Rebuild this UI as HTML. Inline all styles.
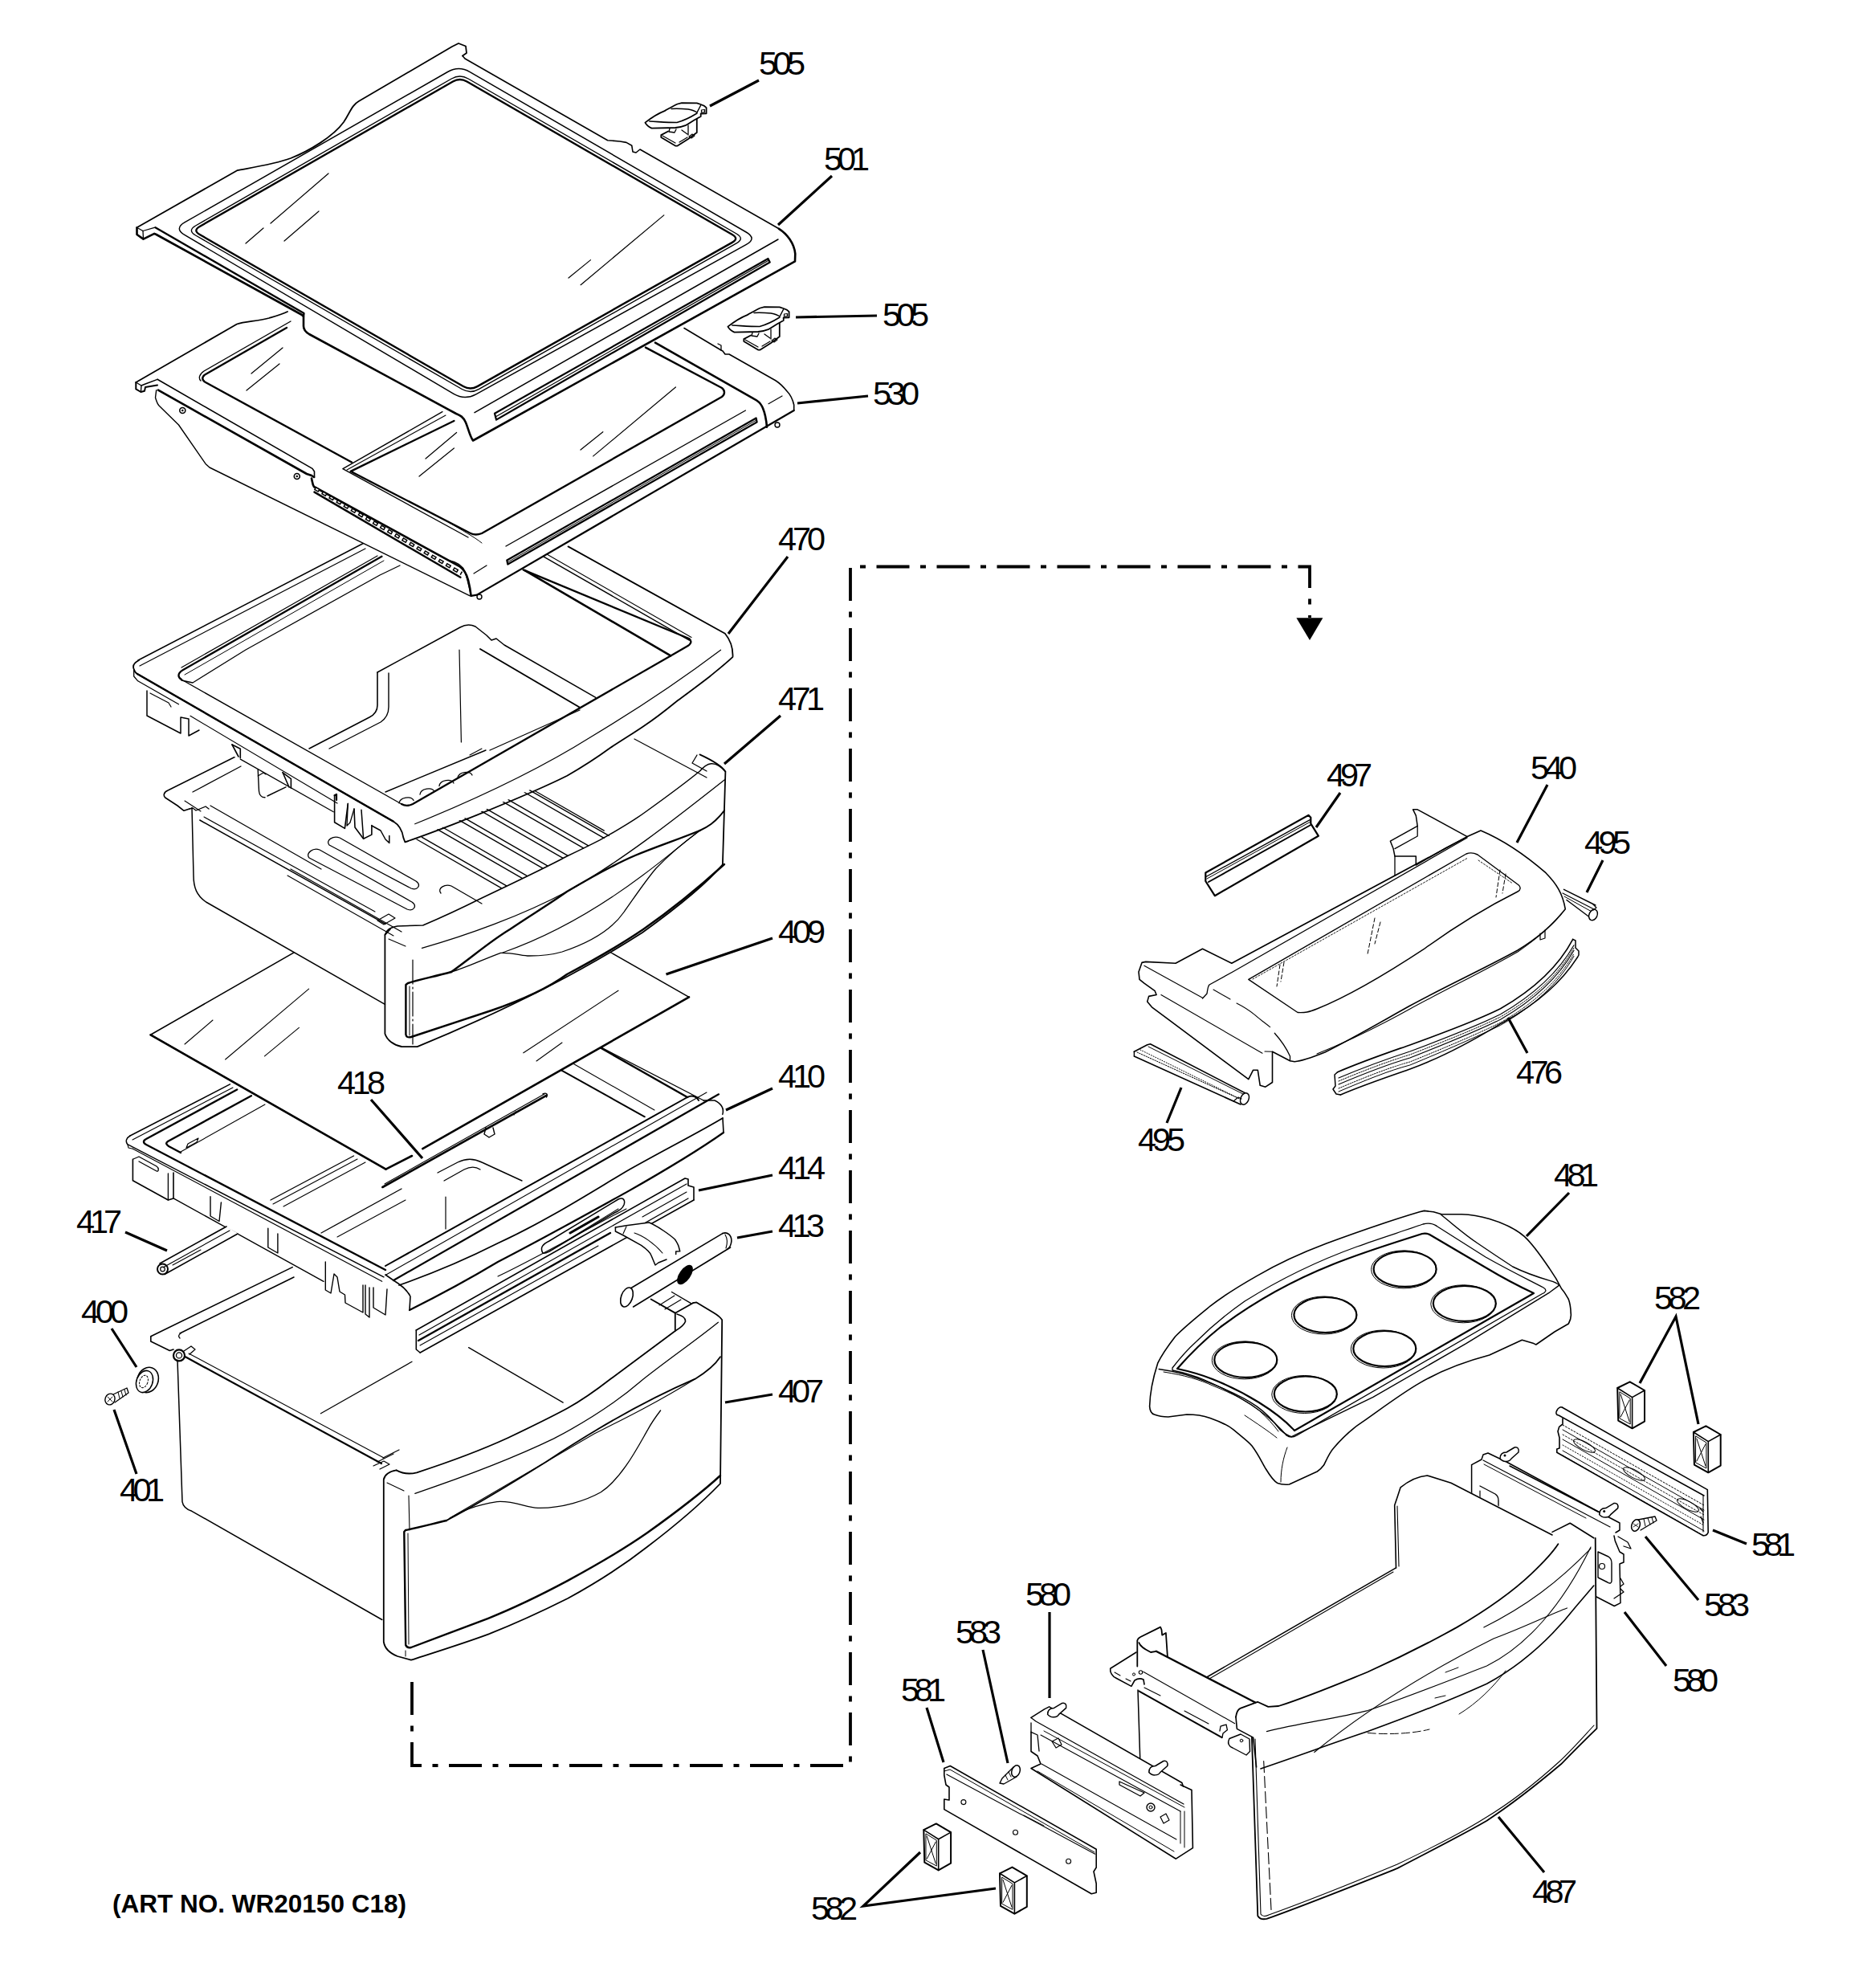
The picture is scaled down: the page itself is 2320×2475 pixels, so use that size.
<!DOCTYPE html>
<html><head><meta charset="utf-8"><style>
html,body{margin:0;padding:0;background:#fff;}
svg{display:block;}
.t text{font-family:"Liberation Sans",sans-serif;font-size:41.5px;fill:#000;}
</style></head><body>
<svg width="2320" height="2475" viewBox="0 0 2320 2475" xmlns="http://www.w3.org/2000/svg">
<rect width="2320" height="2475" fill="#fff"/>
<!--PARTS-->
<g id="parts" fill="none" stroke="#000" stroke-linejoin="round" stroke-linecap="round">
<!-- 10_p407.py -->
<path d="M187.8,1663.8L364.2,1577.6L700,1530L881.4,1622.7L899,1638.4L897,1847C860,1885 780,1940 707,1990C640,2022 560,2050 511.9,2066.7L477.8,2049.8L475.8,2016.5L238.8,1881.3C230,1878 227,1872 227,1869.6L221,1693.2L211.3,1681.5L187.8,1673.6Z" fill="#fff" stroke="none"/>
<path d="M187.8,1663.8L364.2,1577.6" stroke-width="1.6"/>
<path d="M225,1660C222,1662 222,1664 224,1666" stroke-width="1.3"/>
<path d="M224,1660L366,1590" stroke-width="1.6"/>
<path d="M187.8,1663.8L187.8,1670.0L211.3,1681.5L216.0,1680.0" stroke-width="1.6"/>
<circle cx="223" cy="1687.4" r="7" stroke-width="2.2"/><circle cx="223" cy="1687.4" r="3.5" stroke-width="1.3"/>
<path d="M229.0,1682.0L238.0,1676.0L243.0,1680.0L236.0,1686.0" stroke-width="1.3"/>
<path d="M221,1693.2L227,1869.6C228,1876 232,1879 238.8,1881.3L475.8,2016.5" stroke-width="1.5"/>
<path d="M231,1689.3L475,1822" stroke-width="2.2"/>
<path d="M235,1685L478,1815" stroke-width="1.1"/>
<path d="M465.0,1825.0L478.0,1819.0L485.0,1823.0L473.0,1829.0" stroke-width="1.2"/>
<path d="M470.0,1820.0L490.0,1810.0" stroke-width="1.2"/>
<path d="M477.0,1815.0L497.0,1805.0" stroke-width="1.2"/>
<path d="M493.5,1830.4C485,1832 479,1836 477.8,1842L477.8,2044C479,2052 485,2058 495,2062L511.9,2066.7C545,2056 580,2045 608,2034.6C640,2022 675,2006 707,1990C740,1972 775,1950 805.7,1926C840,1900 870,1875 897,1847L899.2,1643.3C897,1640 893,1637 889,1634.6L867.4,1621.4L863,1622.2" stroke-width="1.8"/>
<path d="M493.5,1830.4C500,1834 508,1836 519,1833.3C560,1820 600,1805 632.8,1790C660,1777 685,1765 707,1753C725,1743 742,1731 760,1717C790,1695 815,1676 840.8,1657L840.8,1634.7L863,1622.2" stroke-width="1.8"/>
<path d="M840.8,1657C846,1654 852,1650 853.6,1645C854,1641 850,1638 843,1636" stroke-width="1.6"/>
<path d="M840.8,1634.7L810.7,1617.5" stroke-width="2.0"/>
<path d="M860.5,1622.6L836.5,1608.5" stroke-width="1.4"/>
<path d="M821,1625L840,1613M828,1630L848,1618" stroke-width="1.1"/>
<path d="M516.8,1859.3C580,1838 640,1815 689.4,1791.2C730,1770 765,1748 797.8,1719.7C830,1694 865,1670 894.4,1646.3" stroke-width="1.3"/>
<path d="M482,1846L503,1856" stroke-width="1.1"/>
<path d="M509,1862L510,1905" stroke-width="1.1"/>
<path d="M556,1893C535,1898 515,1903 505,1905L503.3,1907L505.2,2048C506,2050 508,2051.9 512,2051L608,2014.8C640,2002 675,1985 707,1967.9C740,1950 775,1930 805.7,1908.6C840,1884 870,1862 897,1837" stroke-width="2.4"/>
<path d="M508,1909L509,2047" stroke-width="1.0"/>
<path d="M505,2055L505,2062" stroke-width="1.0"/>
<path d="M556,1893C600,1870 640,1845 680,1820C740,1780 800,1745 865.7,1716.7C880,1708 890,1700 897,1689.3" stroke-width="1.8"/>
<path d="M556,1893C575,1880 595,1873 618.9,1869.6C640,1868 655,1877 669.8,1877.4C700,1878 730,1868 748.2,1857.8C775,1840 795,1800 807,1779.4C812,1770 818,1762 822.6,1756" stroke-width="1.3"/>
<path d="M560,1890C620,1855 680,1820 740,1785C780,1765 820,1745 865.7,1716.7" stroke-width="1.1"/>
<path d="M399.4,1759.8L513,1695.2" stroke-width="1.3"/>
<path d="M583.6,1677.6L701.2,1746.1" stroke-width="1.3"/>
<!-- 12_p400.py -->

<ellipse cx="184" cy="1718" rx="13" ry="16" transform="rotate(20 184 1718)" fill="#fff" stroke-width="1.6"/>
<ellipse cx="180" cy="1720" rx="10" ry="14" transform="rotate(20 180 1720)" fill="#fff" stroke-width="1.5"/>
<ellipse cx="179" cy="1720" rx="5" ry="8" transform="rotate(20 179 1720)" stroke-width="1" stroke-dasharray="2 2"/>
<ellipse cx="137" cy="1742" rx="6" ry="7" transform="rotate(20 137 1742)" fill="#fff" stroke-width="1.4"/>
<path d="M134,1739L140,1745M140,1739L134,1745" stroke-width="0.9"/>
<path d="M141,1736L158,1728L160,1734L143,1746" stroke-width="1.3"/>
<path d="M147,1733L149,1741M151,1732L153,1739M155,1730L157,1737" stroke-width="1.0"/>
<!-- 20_p410.py -->
<path d="M158.8,1423.6C156,1420 157,1417 162,1414L420,1268L860,1360L876,1374C895,1380 901,1386 900.7,1398.5L900,1415C850,1450 780,1490 700,1530C620,1570 560,1590 515,1610L500,1645L480,1637L453,1610L430,1612L405,1600L403,1595L216,1492L209.4,1494L165.4,1469.8L165.4,1443.4Z" fill="#fff" stroke="none"/>
<path d="M162,1414L286.4,1349.9" stroke-width="1.5"/>
<path d="M165,1419L290,1354" stroke-width="1.1"/>
<path d="M162,1414C157,1417 156,1421 158.8,1424.7L477.9,1589.8" stroke-width="1.5"/>
<path d="M165.4,1430.2L475.7,1595.3" stroke-width="1.2"/>
<path d="M159,1425L160,1429L165.4,1430.2" stroke-width="1.1"/>
<path d="M295.2,1356.5L182,1418C178,1420 178,1423 182,1425L480,1581" stroke-width="2.4"/>
<path d="M312.9,1364.2L209,1421C206,1423 207,1425 210,1427L225,1435" stroke-width="2.4"/>
<path d="M225,1434L330,1375" stroke-width="1.1"/>
<path d="M232,1429L245,1422L247,1417L234,1424Z" stroke-width="1.2"/>
<path d="M337,1494L440.5,1439" stroke-width="1.4"/>
<path d="M340,1499L445,1443" stroke-width="1.1"/>
<path d="M353,1502L455,1447" stroke-width="1.1"/>
<path d="M400,1535L500,1480" stroke-width="1.3"/>
<path d="M420,1540L505,1494" stroke-width="1.1"/>
<path d="M165.4,1443.4L165.4,1469.8L209.4,1494.0L216.0,1491.9L216.0,1460.0" stroke-width="1.6"/>
<path d="M166,1443L173,1440L195,1452C198,1454 198,1459 195,1458L173,1446" stroke-width="1.3"/>
<path d="M209.4,1461.0L209.4,1494.0" stroke-width="1.3"/>
<path d="M216.0,1491.9L403.0,1595.3" stroke-width="1.4"/>
<path d="M262.0,1489.6L262.0,1514.0L273.0,1520.5L275.4,1497.0" stroke-width="1.4"/>
<path d="M333.8,1529.3L333.8,1553.0L345.9,1560.0L345.9,1536.0" stroke-width="1.4"/>
<path d="M405.3,1571.0L405.3,1606.0L412.0,1610.0L416.0,1586.0L420.0,1590.0L423.0,1608.0L429.5,1612.0L430.0,1622.0L452.0,1634.0L452.0,1600.0" stroke-width="1.4"/>
<path d="M455.0,1600.0L455.0,1636.0L460.0,1640.0L460.0,1603.0" stroke-width="1.4"/>
<path d="M465.0,1603.0L465.0,1628.0L480.0,1637.0L482.0,1605.0" stroke-width="1.4"/>
<path d="M480,1576L856,1366C862,1363 868,1365 870,1370" stroke-width="2.0"/>
<path d="M480,1587.5L880,1360" stroke-width="1.1"/>
<path d="M490,1594L895,1362.3" stroke-width="2.2"/>
<path d="M497,1600C540,1585 580,1568 620,1547.8C680,1520 730,1488 780,1458.2C830,1430 870,1410 900,1392" stroke-width="1.8"/>
<path d="M510,1631C550,1611 585,1592 620,1571C680,1540 730,1512 780,1484.4C830,1456 870,1432 901,1410" stroke-width="2.2"/>
<path d="M620,1589C680,1560 730,1530 780,1505" stroke-width="1.1"/>
<path d="M480,1587L490,1594C500,1600 507,1606 511,1614L510,1631" stroke-width="1.6"/>
<path d="M899.8,1387.4C902,1380 898,1374 890,1370L876,1370" stroke-width="1.5"/>
<path d="M900,1392L901,1410" stroke-width="1.6"/>
<path d="M676,1560C672,1553 676,1549 684,1545L770,1493C776,1490 779,1494 777,1500C775,1505 770,1508 765,1510L684,1558C680,1560 678,1561 676,1560Z" stroke-width="1.5"/>
<path d="M710,1535L745,1515" stroke-width="3.0"/>
<path d="M700,1548L770,1505" stroke-width="1.1"/>
<path d="M856,1366L740,1300" stroke-width="2.4"/>
<path d="M876.2,1370L749.8,1304.6" stroke-width="1.3"/>
<path d="M802.8,1390.3L696.7,1331.2" stroke-width="2.0"/>
<path d="M815,1382L710,1322" stroke-width="1.1"/>
<path d="M545,1460L570,1447C580,1442 590,1442 600,1447L650,1470" stroke-width="1.4"/>
<path d="M553,1470L578,1456C586,1452 592,1452 598,1456" stroke-width="1.3"/>
<path d="M555,1490L555,1530" stroke-width="1.2"/>
<!-- 22_p417.py -->
<path d="M197.3,1573.3L282,1527L297,1536L205,1586.5C198,1586 196,1578 197.3,1573.3Z" fill="#fff" stroke="none"/>
<path d="M199,1573L282,1527" stroke-width="1.6"/>
<path d="M205,1586.5L296,1536" stroke-width="1.6"/>
<path d="M203,1578L286,1532" stroke-width="1.1"/>
<path d="M215,1575L250,1556" stroke-width="1.1"/>
<circle cx="202.5" cy="1580" r="6.5" stroke-width="2"/><circle cx="202.5" cy="1580" r="2.8" stroke-width="1.2"/>
<!-- 24_p414.py -->
<path d="M518.3,1656L853,1467L859,1470L864,1494L523.2,1684L518.3,1680Z" fill="#fff" stroke="none"/>
<path d="M518.3,1656L853,1467L857,1468L857,1476L864,1478L864,1494" stroke-width="1.6"/>
<path d="M523.2,1684L864,1494" stroke-width="1.6"/>
<path d="M518.3,1656L518.3,1680L523.2,1684" stroke-width="1.6"/>
<path d="M522,1662L855,1474" stroke-width="1.2"/>
<path d="M521,1669L760,1535" stroke-width="2.4"/>
<path d="M523,1675L745,1551" stroke-width="1.1"/>
<path d="M790,1530L857,1492" stroke-width="1.3"/>
<path d="M800,1515L855,1484" stroke-width="1.1"/>
<!-- 26_p413.py -->
<path d="M773.8,1617C770,1610 775,1600 786,1603.5L899.8,1535.6C905,1532 912,1536 910.9,1545C910,1552 908,1555 909.6,1555.3L788.6,1627C780,1630 775,1625 773.8,1617Z" fill="#fff" stroke="none"/><path d="M766.4,1528L808.4,1522C820,1527 835,1538 845.4,1552.8L846.7,1557.8L841.7,1561.5L830,1568L816,1575L811,1563L798.5,1550.4L766.4,1533Z" fill="#fff" stroke="none"/>
<path d="M786,1603.5L899.8,1535.6" stroke-width="1.6"/>
<path d="M788.6,1627L909.6,1553" stroke-width="1.6"/>
<ellipse cx="780.5" cy="1615" rx="7" ry="12.5" transform="rotate(20 780.5 1615)" fill="#fff" stroke-width="1.6"/>
<path d="M899.8,1535.6C906,1533 911,1538 910.9,1545C910.5,1550 909,1553 906,1555" stroke-width="1.6"/>
<path d="M903,1537C906,1542 906,1548 904,1554" stroke-width="1.1"/>
<ellipse cx="853" cy="1587" rx="14" ry="7" transform="rotate(-55 853 1587)" fill="#000" stroke="none"/>
<path d="M766.4,1528L780,1525.7L808.4,1522C820,1527 835,1538 840.5,1543C843,1547 845,1550 845.4,1552.8L846.7,1557.8L841.7,1558L841.7,1561.5" stroke-width="1.5"/>
<path d="M766.4,1528L766.4,1533L776.3,1538L798.5,1550.4C805,1555 810,1560 811,1563L816,1575L820,1572L830,1568" stroke-width="1.5"/>
<path d="M776,1536L780,1527M790,1535C800,1538 815,1548 825,1560" stroke-width="1.1"/>
<!-- 28_p418.py -->

<path d="M476.4,1478L680.4,1363.8" stroke-width="2.6"/>
<path d="M479,1474L678,1362" stroke-width="1.1"/>
<path d="M676,1362C680,1360 683,1362 680.4,1366" stroke-width="1.4"/>
<path d="M605,1404L603,1412L609,1416L616,1412L614,1404" stroke-width="1.4"/>
<path d="M640,1388L642,1384" stroke-width="1.2"/>
<!-- 30_p409.py -->
<path d="M187.5,1288.3L563.0,1073.0L858.0,1241.4L480.5,1455.6Z" fill="#fff" stroke="none"/>
<path d="M480.5,1455.6L187.5,1288.3L563.0,1073.0" stroke-width="1.6"/>
<path d="M563.0,1073.0L858.0,1241.4" stroke-width="1.5"/>
<path d="M187.5,1288.3L480.5,1455.6" stroke-width="2.6"/>
<path d="M480.5,1455.6L513.0,1439.0" stroke-width="2.6"/>
<path d="M526.3,1430.2L858.0,1241.4" stroke-width="2.6"/>
<path d="M280.6,1319.0L384.6,1231.2" stroke-width="1.1"/>
<path d="M329.5,1314.8L372.4,1279.3" stroke-width="1.1"/>
<path d="M651.8,1310.8L770.0,1233.2" stroke-width="1.1"/>
<path d="M668.0,1321.0L700.0,1298.0" stroke-width="1.1"/>
<path d="M230.0,1300.0L265.0,1270.0" stroke-width="1.1"/>
<!-- 40_p471.py -->
<path d="M299.7,938.8L209.6,983.8C204,986 203,990 205.7,993L221,1003L239,1005.4L241,1090C241,1105 245,1115 256.6,1123L479.4,1250L479.4,1287C482,1295 490,1301 500,1303L519.6,1303.2C600,1270 700,1225 800,1161C850,1125 880,1100 899.9,1076.4L903.4,960.7C900,955 890,948 871.5,939.4L700,850Z" fill="#fff" stroke="none"/>
<path d="M299.7,938.8L209.6,983.8C204,986 203,990 205.7,993L221,1003L229,1009.3L236,1007" stroke-width="1.6"/>
<path d="M236,1007L240,1006L244,1009L256,1004L260,1007" stroke-width="1.3"/>
<path d="M240,986L300,954" stroke-width="1.3"/>
<path d="M239,1005.4L241,1090C241,1105 245,1115 256.6,1123L479.4,1250.3" stroke-width="1.5"/>
<path d="M248.8,1021L480,1150.4" stroke-width="1.5"/>
<path d="M254,1017L467,1135" stroke-width="1.1"/>
<path d="M230,997L250,1010" stroke-width="1.1"/>
<path d="M486,1156.7L479.4,1163.8L479.4,1287C482,1295 490,1301 500,1303L519.6,1303.2C600,1270 700,1225 800,1161C850,1125 880,1100 899.9,1076.4L903.4,960.7C900,955 890,948 871.5,939.4" stroke-width="1.8"/>
<path d="M479.4,1163.8C481,1158 485,1155 495,1153L526.7,1152C555,1140 580,1128 600,1118C640,1099 680,1080 706,1066C725,1057 735,1052 746.9,1045.9C770,1033 790,1021 805,1010C830,992 852,976 871.5,960C880,950 890,945 903.4,960.7" stroke-width="1.5"/>
<path d="M525.5,1180.3C580,1165 650,1140 706,1110C770,1075 840,1020 903.4,970" stroke-width="1.3"/>
<path d="M484,1169L505,1178" stroke-width="1.1"/>
<path d="M514,1195L514,1300" stroke-width="1.2" stroke-dasharray="30 4 2 4"/>
<path d="M562,1210C540,1216 520,1220 508,1224L505.4,1226L505.4,1288C506,1291 508,1292 512,1291L612,1258C650,1245 680,1232 706,1213C740,1195 770,1178 801,1157C840,1130 870,1105 902,1076" stroke-width="2.4"/>
<path d="M510,1228L510,1289" stroke-width="1.0"/>
<path d="M562,1210C590,1190 610,1172 635,1157C660,1140 685,1125 706,1110C740,1090 765,1076 791,1065C820,1053 845,1045 871.5,1034" stroke-width="2.4"/>
<path d="M562,1210C580,1205 600,1195 623.5,1186.3C640,1186 650,1190 659,1190C675,1190 690,1188 700,1185C730,1175 760,1160 777,1135.5C795,1110 805,1095 817,1081C835,1062 850,1050 871.5,1034" stroke-width="1.3"/>
<path d="M626,1186C700,1160 760,1120 800,1090C830,1068 850,1050 871.5,1034" stroke-width="1.1"/>
<path d="M871.5,1034C880,1030 890,1025 902,1009" stroke-width="2.0"/>
<path d="M519.0,1045.0L624.7,1105.8" stroke-width="1.4"/>
<path d="M525.5,1042.3L630.8,1102.8" stroke-width="1.4"/>
<path d="M544.8,1032.7L650.2,1093.3" stroke-width="1.4"/>
<path d="M551.3,1030.0L656.2,1090.3" stroke-width="1.4"/>
<path d="M570.6,1020.4L675.7,1080.8" stroke-width="1.4"/>
<path d="M577.1,1017.7L681.7,1077.8" stroke-width="1.4"/>
<path d="M596.4,1008.1L701.1,1068.3" stroke-width="1.4"/>
<path d="M602.9,1005.4L707.2,1065.3" stroke-width="1.4"/>
<path d="M622.2,995.8L726.6,1055.8" stroke-width="1.4"/>
<path d="M628.7,993.1L732.7,1052.9" stroke-width="1.4"/>
<path d="M648.0,983.5L752.1,1043.4" stroke-width="1.4"/>
<path d="M654.5,980.8L758.2,1040.4" stroke-width="1.4"/>
<path d="M666.4,984.7L752.3,1034.1" stroke-width="1.3"/>
<path d="M385,1068C380,1062 390,1055 398,1058L513,1123C520,1128 515,1135 507,1132Z" stroke-width="1.3"/>
<path d="M410,1052C405,1046 415,1040 423,1043L518,1097C525,1102 520,1109 512,1106Z" stroke-width="1.3"/>
<path d="M549,1112C544,1106 554,1100 562,1103L600,1125" stroke-width="1.3"/>
<path d="M362,1082L500,1160" stroke-width="1.3"/>
<path d="M358,1090L490,1165" stroke-width="1.1"/>
<path d="M470,1146L484,1138L492,1143L478,1151Z" stroke-width="1.2"/>
<path d="M790,920L880,968" stroke-width="1.2"/>
<path d="M868,940L862,950L880,960" stroke-width="1.3"/>
<path d="M321.2,958L322.5,985C323,990 326,993 330,992.8" stroke-width="1.4"/>
<path d="M333,991L356,979.9" stroke-width="1.4"/>
<path d="M321.2,966L328,962L331,964" stroke-width="1.2"/>
<path d="M262,1003L400,1082" stroke-width="1.2"/>
<!-- 50_p470.py -->
<path d="M172,822L461,672L600,600L707.5,680.4L902.9,788.8C908,795 913,805 912.5,817.8C912,822 900,830 883.5,842.5C850,875 800,905 760,931C700,968 620,1003 504.4,1048.3L500,1038L418,1000L235,916L223,889L183,891L183,860L171.7,847.8L166.7,842C165,832 166,825 172,822Z" fill="#fff" stroke="none"/><path d="M416.6,990.2L416.6,1023.7L429.4,1031.4L433.3,1000.5L441,1007L450,1008.2L452.6,1044.3L462.9,1039.1L462.9,1027.5L484.8,1040.4L484.8,1049.4L500,1050L500,1030Z" fill="#fff" stroke="none"/>
<path d="M172,822L461,672" stroke-width="1.5"/>
<path d="M174,829L455,683" stroke-width="1.2"/>
<path d="M173,822C167,825 165,829 166.7,833C167.5,836 169,838 171,839L490,1022.8C497,1027 501,1034 502.4,1043.2L504.4,1048.3C530,1040 560,1028 584,1018.7C630,1000 670,984 706.3,965.7C725,955 745,942 760,931C775,921 790,912 802,903.7C815,895 828,885 840.6,874.7C855,864 870,853 883.5,842.5C895,833 905,825 912.5,817.8C913,805 908,795 902.9,788.8L707.5,680.4" stroke-width="1.8"/>
<path d="M171,839L490,1022.8" stroke-width="2.4"/>
<path d="M166.7,834L166.7,842L171.7,847.8L222.5,876.8" stroke-width="1.3"/>
<path d="M237,891.3L420,1000" stroke-width="1.2"/>
<path d="M516.7,1025.8C580,1000 660,965 735.4,917.7C790,885 850,845 897.5,809.2" stroke-width="1.2"/>
<path d="M475.4,692.8L228,834C221,838 221,843 226,846" stroke-width="2.3"/>
<path d="M226,846L500,1001" stroke-width="1.4"/>
<path d="M500,1001C505,1004 510,1003 514,1001L836,816L855,805C861,802 862,798 858,795L651.6,709.4" stroke-width="2.3"/>
<path d="M470,692L226,831" stroke-width="1.2"/>
<path d="M230,840L478,698" stroke-width="1.0"/>
<path d="M676.7,692.8L858.4,797.1" stroke-width="1.4"/>
<path d="M681,690L861,793.5" stroke-width="1.1"/>
<path d="M653.5,710.1L835.2,816.4" stroke-width="2.6"/>
<path d="M183.0,860.0L183.0,891.0L225.0,913.0L225.0,893.0L235.0,895.0L235.0,916.0L248.0,909.0" stroke-width="1.5"/>
<path d="M187.0,863.0L210.0,875.0L213.0,880.0" stroke-width="1.2"/>
<path d="M470,837L470,878C470,885 466,890 460,893L385,932" stroke-width="1.6"/>
<path d="M470,837L573,781C580,777 586,777 592,780L606,791L612,797L618,795L628,803L741.8,868.3" stroke-width="1.5"/>
<path d="M484,838L484,880C484,888 480,895 474,899L410,932" stroke-width="1.4"/>
<path d="M598,808L722.5,881" stroke-width="2.0"/>
<path d="M572,809L574.4,924" stroke-width="1.2"/>
<path d="M226,847L240,850L306,809L473,716L498,704" stroke-width="1.3"/>
<path d="M480,986L605,934" stroke-width="1.4"/>
<path d="M497,999.9C498,992.4 512,990.4 515,996.4" stroke-width="1.3"/>
<path d="M523,989.0C524,981.5 538,979.5 541,985.5" stroke-width="1.3"/>
<path d="M547,978.5C548,971 562,969 565,975" stroke-width="1.3"/>
<path d="M570,968.5C571,961 585,959 588,965" stroke-width="1.3"/>
<path d="M610,934L722,884" stroke-width="1.3"/>
<path d="M585,940L600,932" stroke-width="1.1"/>
<path d="M289.0,927.0L299.3,932.2L299.3,943.8" stroke-width="1.6"/>
<path d="M289.0,927.0L297.0,942.0" stroke-width="1.6"/>
<path d="M352.1,961.8L362.4,969.6L362.4,981.2" stroke-width="1.6"/>
<path d="M352.1,961.8L360.0,980.0" stroke-width="1.6"/>
<path d="M416.6,990.2L416.6,1023.7L429.4,1031.4L433.3,1000.5" stroke-width="1.6"/>
<path d="M433.3,1000.5L432.0,1028.0L436.0,1024.0L441.0,1007.0" stroke-width="1.3"/>
<path d="M441.0,1007.0L442.0,1030.0L452.6,1044.3L462.9,1039.1L462.9,1027.5" stroke-width="1.6"/>
<path d="M450.0,1008.2L452.6,1044.3" stroke-width="1.5"/>
<path d="M463.0,1028.0L474.0,1034.0L480.0,1045.0L484.8,1049.4L484.8,1040.4" stroke-width="1.5"/>
<path d="M416.6,990.2L419.0,989.0L419.0,996.0" stroke-width="2.2"/>
<path d="M299.3,945.1L415.3,1010.8" stroke-width="1.3"/>
<!-- 60_p530.py -->
<path d="M169.3,476L295,403.5L358,388L565,250L852,408.5L898,436L965.8,473.7C976,482 987,497 988.7,511L593.8,740.6L584.8,741.6L261,582L256,577.4L222.5,529L198,505L193.5,495L194.7,485.6L180,486.8L175.4,488L169.3,484.4Z" fill="#fff" stroke="none"/>
<path d="M169.3,476L295,403.5C305,400 320,400 335,396C345,393 352,391 358,388" stroke-width="1.8"/>
<path d="M169.3,476.0L169.3,484.4L175.4,488.0L180.0,486.8L181.0,482.0L196.0,479.6" stroke-width="2.0"/>
<path d="M169.3,476.0L176.0,480.0L181.0,478.0L196.0,472.3" stroke-width="1.4"/>
<path d="M176.0,480.0L175.4,488.0" stroke-width="1.4"/>
<path d="M196.0,472.3L389.0,583.4L391.5,587.0L391.5,594.3" stroke-width="1.6"/>
<path d="M197.0,485.6L382.0,590.0L388.0,592.0L391.0,594.0" stroke-width="2.6"/>
<path d="M194.7,485.6L193.5,495C195,500 196,503 198,505L222.5,529L256,577.4L261,582L584.8,741.6" stroke-width="1.4"/>
<circle cx="227.3" cy="511" r="3.5" stroke-width="1.6"/><circle cx="227.3" cy="511" r="1.3" fill="#000" stroke="none"/>
<circle cx="369.8" cy="593" r="3.5" stroke-width="1.6"/><circle cx="369.8" cy="593" r="1.3" fill="#000" stroke="none"/>
<path d="M388,595.5C389,600 389,603 391,606L572.7,705.4C578,709 581,715 583,722C585,730 586,736 586.6,741.8" stroke-width="2.6"/>
<path d="M391.5,612.6L573.4,718.8" stroke-width="2.4"/>
<path d="M392.0,607.8L575.0,714.0" stroke-width="4.5" stroke-dasharray="6.5 4" stroke-linecap="butt"/>
<path d="M392.0,607.8L575.0,714.0" stroke-width="1.6" stroke="#fff" stroke-dasharray="3.5 7" stroke-dashoffset="-1.5" stroke-linecap="butt"/>
<path d="M586.6,741.8L593.8,740.6L988.7,511.0" stroke-width="2.2"/>
<path d="M988.7,511L988.7,504C987,497 984,491 980,487C976,482 971,477 965.8,473.7L908,441L903,441L900,437L898,436L852,408.5" stroke-width="1.6"/>
<path d="M898.0,436.0L898.0,430.0L894.0,428.0" stroke-width="1.3"/>
<path d="M816,426.6L939,496.6C944,499 947,502 949,506C952,512 954,520 955,531.6" stroke-width="2.6"/>
<path d="M631.3,697.5L941.6,520.5L942.6,525.5L632.3,702.5L631.3,697.5" stroke-width="2.2"/>
<path d="M632.0,700.0L942.0,523.0" stroke-width="1.0"/>
<path d="M630.0,680.0L928.4,511.0" stroke-width="1.4"/>
<path d="M565.4,524L436.6,586.8L586,664C590,666 595,666 600,664L899,494C903,491 903,486 899,483L804,432.6" stroke-width="2.4"/>
<path d="M550.9,512.7L426.9,583.6L583,669" stroke-width="1.4"/>
<path d="M555,517L432,585" stroke-width="1.1"/>
<path d="M560,698C570,700 576,704 579,712C582,720 584,730 586.6,741.8" stroke-width="1.4"/>
<path d="M560,651C575,660 590,668 600,676" stroke-width="1.0"/>
<path d="M357,408L256,466C251,469 251,473 256,476L438,575.5" stroke-width="2.4"/>
<path d="M362,400L254,462C248,466 247,471 250,474" stroke-width="1.4"/>
<path d="M841.4,482.0L738.7,567.9" stroke-width="1.2"/>
<path d="M750.8,537.7L723.0,560.0" stroke-width="1.2"/>
<path d="M957.0,502.7L974.0,493.0" stroke-width="1.2"/>
<path d="M590.0,714.0L606.0,704.0" stroke-width="1.2"/>
<path d="M352.0,433.0L313.0,465.0" stroke-width="1.2"/>
<path d="M348.0,453.0L307.0,486.0" stroke-width="1.2"/>
<path d="M568.6,538.5L530.0,571.0" stroke-width="1.2"/>
<path d="M565.4,558.0L522.0,593.0" stroke-width="1.2"/>
<circle cx="968" cy="529" r="3" stroke-width="1.4"/><circle cx="597" cy="743" r="3" stroke-width="1.4"/>
<!-- 70_p501.py -->
<path d="M170.5,283.3L295.3,212.2C305,210 340,205 362,197C385,188 415,170 428,152C436,140 438,131 446.8,126L563,58L571,54L580,57.5L581,66L576,69.5L579,73L756.7,174.7L788,189L970,284.8C980,291 989,303 990.3,316L990,325.4L589,548.5C585,543 583,533 580,526C577,519 573,517 568,515L385,416C380,413 378,410 378,406L378,394L376,392L194.7,292L192.2,290.8L178.5,297.6L170.5,292Z" fill="#fff" stroke="none"/>
<path d="M170.5,283.3L295.3,212.2C305,210 340,205 362,197C385,188 415,170 428,152C436,140 438,131 446.8,126L563,58L571,54L580,57.5L581,66L576,69.5" stroke-width="1.8"/>
<path d="M576.0,69.5L579.0,73.0L756.7,174.7L772.0,176.0L780.0,177.4L786.8,181.3L788.0,189.0L792.0,190.0L797.0,186.0L970.0,284.8" stroke-width="1.6"/>
<path d="M970,284.8C980,291 989,303 990.3,316L990,325.4L589,548.5C585,543 583,533 580,526C577,519 573,517 568,515L385,416C380,413 378,410 378,406L378,394L376,392L194.7,292L192.2,290.8L178.5,297.6L170.5,292L170.5,283.3" stroke-width="2.6"/>
<path d="M193.5,283.3L378.5,390.0L378.0,394.0" stroke-width="2.3"/>
<path d="M170.5,283.3L178.0,287.5L192.2,283.3L193.5,283.3" stroke-width="1.3"/>
<path d="M178.0,287.5L178.5,297.6" stroke-width="1.3"/>
<path d="M591.0,513.6L969.0,298.0" stroke-width="1.5"/>
<path d="M616.0,514.7L956.5,322.0L958.7,326.5L618.0,522.6L616.0,514.7" stroke-width="2.2"/>
<path d="M617.5,518.8L957.0,324.3" stroke-width="1.2"/>
<path d="M230.3,276.7L557.5,89.5Q571.4,81.6 585.2,89.6L929.2,289.0Q943.0,297.0 929.0,304.7L592.8,490.8Q578.8,498.5 565.0,490.4L230.2,292.7Q216.4,284.6 230.3,276.7Z" stroke-width="1.5"/>
<path d="M243.6,281.0L562.3,98.0Q572.7,92.0 583.1,98.0L917.1,291.0Q927.5,297.0 917.1,302.9L596.1,484.6Q585.7,490.5 575.3,484.5L243.6,293.0Q233.2,287.0 243.6,281.0Z" stroke-width="1.4"/>
<path d="M248.7,282.0L564.0,101.5Q572.7,96.5 581.4,101.5L911.8,292.0Q920.5,297.0 911.8,301.9L594.4,481.1Q585.7,486.0 577.0,481.0L248.7,292.0Q240.0,287.0 248.7,282.0Z" stroke-width="2.4"/>
<path d="M409.0,216.0L337.0,278.0" stroke-width="1.2"/>
<path d="M328.0,284.0L306.0,303.0" stroke-width="1.2"/>
<path d="M397.0,263.0L354.0,300.0" stroke-width="1.2"/>
<path d="M826.8,267.9L723.1,354.7" stroke-width="1.2"/>
<path d="M735.5,323.6L708.0,346.0" stroke-width="1.2"/>
<!-- 80_p505.py -->

<g><path d="M803.4,152.6C812,146 820,141 827.6,138.1C835,134 840,131 843.7,129.5L849,128.2L867.8,128.4L872.7,130C876,131 878,132 879.6,134L879.6,141.3L872.7,141.5L872.7,145L866.8,148.3C862,151 858,154 854.4,155.8C850,157.5 845,158.8 841,159L811.5,159.6C808,158 805,155.5 803.4,152.6Z" fill="#fff" stroke-width="1.8"/>
<path d="M808.8,151C820,151.5 830,152.5 843,152.5C852,150 860,146 868,141" stroke-width="1.6"/>
<path d="M836,135.4C845,135 852,135.5 857,136C862,137 866,138.5 868,140L872.7,131" stroke-width="1.5"/>
<path d="M873.5,137L877.5,136.5L877.5,139.7L873.5,140Z" stroke-width="1.2"/>
<path d="M834,160L833,164L840,165L842,161M857,156L857,168" stroke-width="1.3"/>
<path d="M867.8,148L867.8,165L857.1,173L843.7,181.6L841,181.6L823.3,171L823.3,168.1L832,163.5" stroke-width="1.8"/>
<path d="M825,169L841,178M846,177L856,171M849,162L856,167" stroke-width="1.3"/>
<path d="M858,170L862,167L865,169L861,172Z" stroke-width="1.1"/></g>
<g transform="translate(103,254)"><path d="M803.4,152.6C812,146 820,141 827.6,138.1C835,134 840,131 843.7,129.5L849,128.2L867.8,128.4L872.7,130C876,131 878,132 879.6,134L879.6,141.3L872.7,141.5L872.7,145L866.8,148.3C862,151 858,154 854.4,155.8C850,157.5 845,158.8 841,159L811.5,159.6C808,158 805,155.5 803.4,152.6Z" fill="#fff" stroke-width="1.8"/>
<path d="M808.8,151C820,151.5 830,152.5 843,152.5C852,150 860,146 868,141" stroke-width="1.6"/>
<path d="M836,135.4C845,135 852,135.5 857,136C862,137 866,138.5 868,140L872.7,131" stroke-width="1.5"/>
<path d="M873.5,137L877.5,136.5L877.5,139.7L873.5,140Z" stroke-width="1.2"/>
<path d="M834,160L833,164L840,165L842,161M857,156L857,168" stroke-width="1.3"/>
<path d="M867.8,148L867.8,165L857.1,173L843.7,181.6L841,181.6L823.3,171L823.3,168.1L832,163.5" stroke-width="1.8"/>
<path d="M825,169L841,178M846,177L856,171M849,162L856,167" stroke-width="1.3"/>
<path d="M858,170L862,167L865,169L861,172Z" stroke-width="1.1"/></g>
<!-- r10_p580R.py -->
<path d="M1832.6,1823.7L1845,1812L1852,1810L2017,1900L2022,1925L2020,1935L2018,1995.6L2010.3,1999.5L1988,1988L1832.6,1900Z" fill="#fff" stroke="none"/>
<path d="M1832.6,1823.7L1845,1817L1847,1811L1853,1809L1876,1820L1996,1885L2017,1896L2017,1905L2012,1908" stroke-width="1.5"/>
<path d="M1832.6,1823.7L1832.6,1880" stroke-width="1.5"/>
<path d="M1847,1818L2005,1901" stroke-width="1.2"/>
<path d="M1848,1823L1975,1890" stroke-width="1.0"/>
<path d="M1880,1825L1990,1882" stroke-width="1.5"/>
<path d="M1868,1816C1868,1810 1872,1808 1876,1808L1886,1802C1890,1801 1892,1804 1891,1808L1882,1816C1880,1820 1872,1821 1868,1816Z" fill="#fff" stroke-width="1.5"/>
<circle cx="1874" cy="1812" r="1.5" fill="#000" stroke="none"/>
<path d="M1991.7,1885.6C1991.7,1879.6 1995.7,1877.6 1999.7,1877.6L2009.7,1871.6C2013.7,1870.6 2015.7,1873.6 2014.7,1877.6L2005.7,1885.6C2003.7,1889.6 1995.7,1890.6 1991.7,1885.6Z" fill="#fff" stroke-width="1.5"/>
<circle cx="1997.7" cy="1881.6" r="1.5" fill="#000" stroke="none"/>
<path d="M2010,1912L2011.3,1918.4L2017,1932L2022,1935L2022,1945L2017,1947L2018,1995.6L2010.3,1999.5L1988,1988" stroke-width="1.5"/>
<path d="M2015,1913L2027,1920L2031,1928L2022,1925" stroke-width="1.3"/>
<path d="M2018,1965L2022,1972L2018,1975" stroke-width="1.3"/>
<path d="M2010,1990L2022,1982L2018,1978" stroke-width="1.3"/>
<path d="M1990,1932L2003,1938C2006,1940 2007,1942 2007,1946L2007,1968C2007,1971 2005,1972 2002,1970L1990,1964Z" stroke-width="1.4"/>
<circle cx="1995" cy="1950" r="3.5" stroke-width="1.2"/>
<path d="M1843,1850L1862,1860C1865,1862 1866,1864 1866,1868L1866,1878" stroke-width="1.4"/>
<path d="M1843,1856L1843,1870" stroke-width="1.2"/>
<!-- r12_p581R.py -->
<path d="M1938.8,1756L1945.6,1752.2L2126.3,1854.6L2127.2,1907.7L2120.5,1911.6L1938.8,1808.2L1941.7,1776.3Z" fill="#fff" stroke="none"/>
<path d="M1938.8,1756C1937,1759 1938,1762 1941,1762L2122,1862" stroke-width="1.5"/>
<path d="M1945.6,1752.2L2126.3,1854.6L2127.2,1907.7C2126,1911 2123,1912 2120.5,1911.6L1938.8,1808.2L1938.8,1804L1942,1803L1942,1790L1940,1782L1941.7,1776.3L1946,1773L1946,1766" stroke-width="1.6"/>
<path d="M1938.8,1756C1940,1753 1943,1751 1945.6,1752.2" stroke-width="1.5"/>
<path d="M1946,1774L2122,1874" stroke-width="1.0" stroke-dasharray="2 2"/>
<path d="M1946,1780L2122,1880" stroke-width="1.0"/>
<path d="M1946,1786L2122,1886" stroke-width="0.9" stroke-dasharray="2 2"/>
<path d="M1946,1792L2122,1892" stroke-width="1.0"/>
<path d="M1946,1799L2122,1899" stroke-width="0.9" stroke-dasharray="1.5 2"/>
<path d="M1946,1806L2122,1906" stroke-width="1.0"/>
<path d="M1946,1812L2122,1912" stroke-width="0.9" stroke-dasharray="2 2"/>
<path d="M2121,1862L2121,1907" stroke-width="1.1"/>
<ellipse cx="1973" cy="1800" rx="15" ry="5" transform="rotate(28 1973 1800)" stroke-width="1.0"/>
<ellipse cx="2035" cy="1835" rx="15" ry="5" transform="rotate(28 2035 1835)" stroke-width="1.0"/>
<ellipse cx="2102" cy="1874" rx="15" ry="5" transform="rotate(28 2102 1874)" stroke-width="1.0"/>
<path d="M2117,1878L2121,1882M2118,1888L2121,1896" stroke-width="1.2"/>
<!-- r14_p582R.py -->

<path d="M2014.2,1728L2029.7,1720.3L2048.0,1731L2048.0,1769.6L2032.6000000000001,1778.3L2015.2,1768.6Z" fill="#fff" stroke-width="2"/>
<path d="M2014.2,1728L2032.6000000000001,1739.6L2048.0,1731M2032.6000000000001,1739.6L2032.6000000000001,1778.3" stroke-width="1.6"/>
<path d="M2017.2,1733L2030.2,1741L2030.2,1773L2017.2,1766Z" stroke-width="1.0"/>
<path d="M2018.2,1736L2029.2,1770M2029.2,1743L2018.2,1764" stroke-width="1.0"/>
<path d="M2108.9,1783L2124.4,1775.3L2142.7000000000003,1786L2142.7000000000003,1824.6L2127.3,1833.3L2109.9,1823.6Z" fill="#fff" stroke-width="2"/>
<path d="M2108.9,1783L2127.3,1794.6L2142.7000000000003,1786M2127.3,1794.6L2127.3,1833.3" stroke-width="1.6"/>
<path d="M2111.9,1788L2124.9,1796L2124.9,1828L2111.9,1821Z" stroke-width="1.0"/>
<path d="M2112.9,1791L2123.9,1825M2123.9,1798L2112.9,1819" stroke-width="1.0"/>
<ellipse cx="2037" cy="1899" rx="5" ry="7.5" transform="rotate(20 2037 1899)" fill="#fff" stroke-width="1.5"/>
<path d="M2034,1897L2040,1901M2040,1897L2034,1901" stroke-width="0.8"/>
<path d="M2040,1892L2061,1888L2063,1893L2043,1905" stroke-width="1.4"/>
<path d="M2047,1891L2049,1900M2052,1890L2055,1898M2057,1889L2059,1896" stroke-width="1.0"/>
<!-- r20_p487.py -->
<path d="M1382.7,2077.2L1415,2057L1416.3,2042.3L1445.1,2025.6L1451.9,2033L1453.9,2062.5L1502.8,2088L1738.5,1951.9L1736.7,1874L1740.4,1863L1744,1851.9C1755,1843 1765,1838 1777.4,1837L1807,1846.3L1933,1907.4L1955.2,1896.3L1984.8,1914.8L1986.7,1920L1988.5,2148.1C1975,2165 1960,2180 1944,2196.3C1910,2225 1880,2248 1851.5,2266.7C1820,2285 1780,2305 1740.4,2325.9C1680,2350 1630,2370 1577.4,2388.9L1566.3,2385.2L1566.3,2355.6L1481,2307.4L1418,2285L1416.3,2092.6Z" fill="#fff" stroke="none"/>
<path d="M1738.5,1951.9L1736.7,1874L1740.4,1863L1744,1851.9C1755,1843 1765,1838 1777.4,1837L1807,1846.3L1933,1911" stroke-width="1.6"/>
<path d="M1742,1950L1740,1875" stroke-width="1.1"/>
<path d="M1738.5,1951.9L1502.8,2088" stroke-width="1.5"/>
<path d="M1735,1957L1506,2090" stroke-width="1.1"/>
<path d="M1416.3,2074.5L1416.3,2042.3C1417,2040 1418,2039 1419.7,2038.3L1445.1,2025.6L1446.5,2029L1447.2,2035.6L1451.9,2033L1453.9,2062.5" stroke-width="1.8"/>
<path d="M1418.3,2045C1420,2050 1425,2053 1433,2057L1439.8,2055.8" stroke-width="1.8"/>
<path d="M1439.8,2055.8L1563.2,2119.5" stroke-width="2.4"/>
<path d="M1415,2057L1382.7,2077.2C1382,2082 1385,2087 1390,2089.3L1408.9,2099.4L1413,2092C1416,2090 1420,2089 1424,2091L1425,2097" stroke-width="1.6"/>
<path d="M1388,2082L1395,2086M1402,2090L1408,2093" stroke-width="1.1"/>
<circle cx="1420.5" cy="2082" r="2.2" stroke-width="1.1"/><circle cx="1412" cy="2084.5" r="1.6" stroke-width="1"/>
<path d="M1417,2104L1419.7,2188.6" stroke-width="1.5"/>
<path d="M1418,2285L1418,2190" stroke-width="1.5"/>
<path d="M1423.7,2081.3L1537.7,2145.7" stroke-width="1.1"/>
<path d="M1418.3,2105.4L1521.6,2163.1" stroke-width="2.0"/>
<path d="M1425,2101L1445,2111M1475,2130L1505,2146" stroke-width="1.1"/>
<path d="M1519,2155L1520,2149L1527,2147L1528.4,2153.7L1523,2158L1522,2163" stroke-width="1.3"/>
<path d="M1531,2164.5C1528,2170 1530,2174 1535,2176L1552,2185L1556.5,2180.6L1556,2165L1545,2159L1531,2164.5" stroke-width="1.4"/>
<circle cx="1546" cy="2167" r="1.8" stroke-width="1"/>
<path d="M1539,2137.6C1540,2131 1542,2128 1544.5,2126.9L1566,2118.8L1579.3,2124.9L1592.2,2124C1630,2112 1670,2095 1703.3,2081.5C1740,2065 1780,2045 1814.4,2025.9C1850,2005 1880,1985 1907,1959.3C1920,1947 1932,1935 1940.4,1922.2" stroke-width="1.8"/>
<path d="M1933,1907.4L1955.2,1896.3L1984.8,1914.8" stroke-width="1.6"/>
<path d="M1539,2137.6L1540.4,2152.4L1560.6,2163.1L1564.6,2200" stroke-width="1.6"/>
<path d="M1577.4,2155.6C1620,2145 1660,2140 1703.3,2129.6C1760,2110 1810,2090 1851.5,2074C1900,2050 1945,2000 1981,1926" stroke-width="1.1"/>
<path d="M1570,2201.9C1620,2185 1660,2170 1703.3,2155.6C1760,2135 1810,2115 1851.5,2096.3C1900,2070 1935,2035 1962.6,2000L1984.8,1974" stroke-width="1.6"/>
<path d="M1558.9,2163L1566.3,2385.2C1568,2388 1572,2390 1577.4,2388.9C1630,2370 1680,2350 1740.4,2325.9C1780,2305 1820,2285 1851.5,2266.7C1880,2248 1910,2225 1944,2196.3C1960,2180 1975,2165 1988.5,2151.9L1986.7,1914.8" stroke-width="1.8"/>
<path d="M1563,2165L1570,2383C1572,2386 1576,2386 1580,2384C1630,2366 1680,2346 1740,2321C1780,2302 1820,2282 1850,2263C1880,2245 1910,2222 1942,2193C1958,2178 1972,2162 1985,2148" stroke-width="1.1"/>
<path d="M1573.7,2192.6L1583,2377.8" stroke-width="1.1" stroke-dasharray="14 5"/>
<path d="M1636.7,2181.5C1700,2130 1780,2080 1860,2040C1900,2025 1930,2010 1951.5,2001.9" stroke-width="1.1"/>
<path d="M1847.8,2025.9C1900,2000 1940,1970 1981,1927.8" stroke-width="1.1"/>
<path d="M1703.3,2157.4C1730,2160 1760,2158 1780,2153" stroke-width="1.0" stroke-dasharray="10 4"/>
<path d="M1817,2134C1840,2120 1860,2100 1875,2080" stroke-width="1.0"/>
<path d="M1787,2114L1800,2111" stroke-width="1.0"/>
<path d="M1800,2082L1816,2076" stroke-width="1.0"/>
<!-- r30_pLeftBr.py -->
<path d="M1284,2138.4L1300.6,2127.9L1306.6,2124.9L1471.9,2219.5L1484,2228.5L1485.4,2300.7L1464.4,2314.2L1284,2201.5Z" fill="#fff" stroke="none"/><path d="M1175.8,2201.5L1183.3,2198.5L1365.2,2302.2L1365.2,2356.3L1359.2,2357.8L1175.8,2252.6Z" fill="#fff" stroke="none"/>
<path d="M1284,2138.4L1300.6,2127.9L1306.6,2124.9L1471.9,2219.5L1473.4,2224" stroke-width="1.6"/>
<path d="M1284,2138.4L1290,2143L1474,2246" stroke-width="1.3"/>
<path d="M1284,2156.4L1284,2180.5L1292,2186L1296,2196L1284,2201.5L1464.4,2314.2L1485.4,2300.7L1484,2228.5L1470,2222" stroke-width="1.6"/>
<path d="M1284,2145L1284,2156.4L1292,2160L1294,2180" stroke-width="1.3"/>
<path d="M1296,2160L1470,2255" stroke-width="1.1"/>
<path d="M1300,2155L1475,2250" stroke-width="1.0"/>
<path d="M1297,2196L1465,2290" stroke-width="1.1"/>
<path d="M1292,2205L1462,2305" stroke-width="1.0"/>
<path d="M1470,2255L1470,2295" stroke-width="1.0"/>
<path d="M1475,2255L1475,2300" stroke-width="1.0"/>
<path d="M1394,2218L1425,2232L1420,2236L1394,2222Z" stroke-width="1.3"/>
<circle cx="1433" cy="2250" r="5" stroke-width="1.4"/><circle cx="1433" cy="2250" r="2" stroke-width="1"/>
<path d="M1445,2262L1452,2258L1456,2266L1449,2270Z" stroke-width="1.2"/>
<path d="M1310,2168L1318,2164L1322,2172L1315,2176Z" stroke-width="1.2"/>
<path d="M1304.6,2134.4C1304.6,2128.4 1308.6,2126.4 1312.6,2126.4L1322.6,2120.4C1326.6,2119.4 1328.6,2122.4 1327.6,2126.4L1318.6,2134.4C1316.6,2138.4 1308.6,2139.4 1304.6,2134.4Z" fill="#fff" stroke-width="1.5"/>
<path d="M1430.8,2206.5C1430.8,2200.5 1434.8,2198.5 1438.8,2198.5L1448.8,2192.5C1452.8,2191.5 1454.8,2194.5 1453.8,2198.5L1444.8,2206.5C1442.8,2210.5 1434.8,2211.5 1430.8,2206.5Z" fill="#fff" stroke-width="1.5"/>
<path d="M1175.8,2201.5L1183.3,2198.5L1365.2,2302.2L1365.2,2325L1362,2330L1365.2,2345L1365.2,2356.3L1359.2,2357.8L1175.8,2252.6L1175.8,2240L1182,2241L1182,2225L1178,2222L1175.8,2210Z" stroke-width="1.6"/>
<path d="M1178.8,2209L1363.7,2308.2" stroke-width="1.1"/>
<path d="M1176,2205L1183,2203L1363,2306" stroke-width="1.0"/>
<path d="M1275,2260L1300,2273" stroke-width="1.0"/>
<circle cx="1199.9" cy="2243.6" r="3" stroke-width="1.1"/>
<circle cx="1264.5" cy="2281.2" r="3" stroke-width="1.1"/>
<circle cx="1330.6" cy="2317.2" r="3" stroke-width="1.1"/>
<ellipse cx="1265" cy="2205" rx="5" ry="7.5" transform="rotate(20 1265 2205)" fill="#fff" stroke-width="1.5"/>
<path d="M1262,2200L1248,2214L1245,2220L1250,2221L1266,2212" stroke-width="1.4"/>
<path d="M1252,2210L1255,2216M1256,2206L1259,2212" stroke-width="1.0"/>
<path d="M1150.3,2278.1L1165.8,2270.4L1184.1,2281.1L1184.1,2319.7L1168.7,2328.4L1151.3,2318.7Z" fill="#fff" stroke-width="2"/>
<path d="M1150.3,2278.1L1168.7,2289.7L1184.1,2281.1M1168.7,2289.7L1168.7,2328.4" stroke-width="1.6"/>
<path d="M1153.3,2283.1L1166.3,2291.1L1166.3,2323.1L1153.3,2316.1Z" stroke-width="1.0"/>
<path d="M1154.3,2286.1L1165.3,2320.1M1165.3,2293.1L1154.3,2314.1" stroke-width="1.0"/>
<path d="M1245,2332.3L1260.5,2324.6000000000004L1278.8,2335.3L1278.8,2373.9L1263.4,2382.6000000000004L1246,2372.9Z" fill="#fff" stroke-width="2"/>
<path d="M1245,2332.3L1263.4,2343.9L1278.8,2335.3M1263.4,2343.9L1263.4,2382.6000000000004" stroke-width="1.6"/>
<path d="M1248,2337.3L1261,2345.3L1261,2377.3L1248,2370.3Z" stroke-width="1.0"/>
<path d="M1249,2340.3L1260,2374.3M1260,2347.3L1249,2368.3" stroke-width="1.0"/>
<!-- r40_p481.py -->
<path d="M1441.7,1697.2C1436,1715 1432,1735 1431.6,1750.9C1432,1757 1434,1760 1437.4,1761C1445,1764 1450,1764 1454.8,1764L1478,1761C1490,1761 1500,1763 1507,1765.4C1520,1770 1530,1775 1536,1779.9C1548,1790 1555,1795 1559,1800C1568,1812 1572,1822 1576.5,1829C1582,1838 1586,1844 1591,1846.5C1596,1848.5 1600,1848.5 1605.5,1848L1640.3,1832C1645,1829 1647,1826 1649,1823.3C1653,1815 1656,1808 1660.6,1803C1670,1792 1682,1780 1695.4,1771.2C1720,1754 1745,1735 1767.8,1721.9C1795,1706 1825,1695 1854.8,1687.1L1895.4,1668.3L1909.9,1672.6L1912.8,1674L1936,1658L1953.3,1648C1956,1643 1957,1640 1956.2,1635C1956,1628 1955,1622 1953.3,1617.5C1950,1612 1948,1608 1944.6,1604.5C1940,1595 1935,1587 1930,1579.9C1920,1565 1910,1550 1898.3,1539.3C1885,1528 1870,1522 1854.8,1517.5C1840,1513 1830,1512 1820,1511.7L1795.4,1511.7L1785.2,1508.8L1773.6,1507.4L1767.8,1508.8C1730,1520 1690,1534 1651.9,1548C1620,1560 1590,1574 1565,1588.6C1545,1600 1525,1612 1507,1626.2C1490,1640 1475,1652 1463.5,1664C1455,1675 1447,1686 1441.7,1697.2Z" fill="#fff" stroke="none"/>
<path d="M1441.7,1697.2C1436,1715 1432,1735 1431.6,1750.9C1432,1757 1434,1760 1437.4,1761C1445,1764 1450,1764 1454.8,1764L1478,1761C1490,1761 1500,1763 1507,1765.4C1520,1770 1530,1775 1536,1779.9C1548,1790 1555,1795 1559,1800C1568,1812 1572,1822 1576.5,1829C1582,1838 1586,1844 1591,1846.5C1596,1848.5 1600,1848.5 1605.5,1848L1640.3,1832C1645,1829 1647,1826 1649,1823.3C1653,1815 1656,1808 1660.6,1803C1670,1792 1682,1780 1695.4,1771.2C1720,1754 1745,1735 1767.8,1721.9C1795,1706 1825,1695 1854.8,1687.1L1895.4,1668.3L1909.9,1672.6L1912.8,1674L1936,1658L1953.3,1648C1956,1643 1957,1640 1956.2,1635C1956,1628 1955,1622 1953.3,1617.5C1950,1612 1948,1608 1944.6,1604.5C1940,1595 1935,1587 1930,1579.9C1920,1565 1910,1550 1898.3,1539.3C1885,1528 1870,1522 1854.8,1517.5C1840,1513 1830,1512 1820,1511.7L1795.4,1511.7L1785.2,1508.8L1773.6,1507.4L1767.8,1508.8C1730,1520 1690,1534 1651.9,1548C1620,1560 1590,1574 1565,1588.6C1545,1600 1525,1612 1507,1626.2C1490,1640 1475,1652 1463.5,1664C1455,1675 1447,1686 1441.7,1697.2Z" stroke-width="1.6"/>
<path d="M1443.2,1704.5C1470,1708 1490,1715 1507,1721.9C1530,1731 1550,1740 1565,1750.9C1578,1760 1588,1772 1594,1779.9C1600,1785 1604,1788 1608.4,1788.6L1709.9,1739.3L1825.8,1672.6L1930,1608.8L1941.7,1600.1" stroke-width="1.4"/>
<path d="M1449,1708C1475,1712 1495,1718 1510,1725C1535,1735 1555,1745 1568,1756C1578,1765 1586,1774 1592,1782" stroke-width="1.0"/>
<path d="M1794,1511.7C1810,1525 1825,1538 1840.3,1548C1855,1558 1870,1568 1883.8,1577C1900,1585 1915,1590 1930,1594.3C1936,1596 1940,1598 1941.7,1600.1" stroke-width="1.4"/>
<path d="M1460,1703C1470,1690 1480,1679 1490,1670C1510,1650 1530,1634 1550,1620C1590,1595 1640,1570 1690,1552C1720,1541 1750,1532 1772,1524C1780,1522 1785,1523 1790,1527L1850,1565C1880,1582 1905,1594 1922,1603C1927,1606 1925,1609 1920,1611L1615,1787C1610,1790 1606,1790 1602,1787C1580,1760 1540,1735 1500,1718C1485,1712 1470,1708 1460,1706Z" stroke-width="1.3"/>
<path d="M1466,1704C1480,1688 1500,1668 1520,1652C1560,1622 1610,1594 1660,1574C1700,1558 1740,1546 1771,1536C1776,1535 1779,1536 1782,1538L1850,1578C1875,1593 1895,1603 1910,1610L1612,1781C1590,1757 1550,1733 1510,1717C1495,1711 1480,1707 1466,1704Z" stroke-width="2.2"/>
<ellipse cx="1749.6" cy="1579.9" rx="39" ry="22" stroke-width="2.2"/>
<ellipse cx="1748.1" cy="1580.4" rx="40.5" ry="23.5" stroke-width="1.0"/>
<ellipse cx="1823.8" cy="1622.8" rx="39" ry="22" stroke-width="2.2"/>
<ellipse cx="1822.3" cy="1623.3" rx="40.5" ry="23.5" stroke-width="1.0"/>
<ellipse cx="1650.4" cy="1637" rx="39" ry="22" stroke-width="2.2"/>
<ellipse cx="1648.9" cy="1637.5" rx="40.5" ry="23.5" stroke-width="1.0"/>
<ellipse cx="1724.3" cy="1679" rx="39" ry="22" stroke-width="2.2"/>
<ellipse cx="1722.8" cy="1679.5" rx="40.5" ry="23.5" stroke-width="1.0"/>
<ellipse cx="1551.3" cy="1692.9" rx="39" ry="22" stroke-width="2.2"/>
<ellipse cx="1549.8" cy="1693.4" rx="40.5" ry="23.5" stroke-width="1.0"/>
<ellipse cx="1625.8" cy="1735.5" rx="39" ry="22" stroke-width="2.2"/>
<ellipse cx="1624.3" cy="1736.0" rx="40.5" ry="23.5" stroke-width="1.0"/>
<path d="M1603,1802C1598,1815 1595,1830 1595,1845" stroke-width="1.0"/>
<path d="M1550,1762C1565,1772 1580,1782 1590,1790" stroke-width="1.0"/>
<!-- r50_p540.py -->
<path d="M1422,1198.4L1426.8,1197.4L1464,1199.3L1497.5,1181.2L1533.8,1199.3L1827.2,1041.6L1844,1034C1870,1045 1900,1065 1925,1086.7C1938,1100 1946,1112 1949.3,1131.8C1935,1150 1915,1168 1890,1183C1850,1205 1800,1228 1756,1252C1720,1272 1690,1290 1650,1310C1635,1316 1620,1321 1612.2,1321.7L1606.5,1320.7L1584.5,1309.3L1584.5,1347.5L1575.9,1353.2L1569.2,1351.3L1566.3,1332.2L1560.6,1332.2L1554.8,1343.7L1434.4,1253.8L1428.7,1247.1L1430.6,1240.4L1440.1,1238.5L1438.2,1233.7L1424.9,1224.2L1419,1219.4L1418,1210Z" fill="#fff" stroke="none"/>
<path d="M1763.3,1077L1763.3,1066L1737,1066L1735.1,1056.6L1731.4,1047.2L1765.2,1028.4L1763.3,1015.3L1759.6,1007.8L1765.2,1007.8L1827.2,1041.6L1800,1056Z" fill="#fff" stroke="none"/>
<path d="M1763.3,1077L1763.3,1066L1737,1066L1735.1,1056.6L1731.4,1047.2L1765.2,1028.4L1763.3,1015.3L1759.6,1007.8L1765.2,1007.8L1827.2,1041.6L1800,1056Z" stroke-width="1.5"/>
<path d="M1422,1198.4L1426.8,1197.4L1464,1199.3L1497.5,1181.2L1533.8,1199.3L1827.2,1041.6L1844,1034C1870,1045 1900,1065 1925,1086.7C1938,1100 1946,1112 1949.3,1131.8C1935,1150 1915,1168 1890,1183C1850,1205 1800,1228 1756,1252C1720,1272 1690,1290 1650,1310C1635,1316 1620,1321 1612.2,1321.7L1606.5,1320.7L1584.5,1309.3L1584.5,1347.5L1575.9,1353.2L1569.2,1351.3L1566.3,1332.2L1560.6,1332.2L1554.8,1343.7L1434.4,1253.8L1428.7,1247.1L1430.6,1240.4L1440.1,1238.5L1438.2,1233.7L1424.9,1224.2L1419,1219.4L1418,1210Z" stroke-width="1.6"/>
<path d="M1765.2,1028.4L1765.2,1041L1737,1056.6" stroke-width="1.3"/>
<path d="M1737,1066L1737,1090" stroke-width="1.3"/>
<path d="M1424.9,1202.2L1497.5,1242.3" stroke-width="1.1"/>
<path d="M1445.9,1238.5L1572,1311.2" stroke-width="1.1"/>
<path d="M1497.5,1243L1503,1237C1504,1232 1504,1228 1506,1226L1535,1210L1827,1043" stroke-width="1.3"/>
<path d="M1511,1232L1532,1244" stroke-width="1.1"/>
<path d="M1540,1249C1550,1254 1556,1258 1562.5,1263.4C1570,1270 1576,1274 1581.6,1278.7" stroke-width="1.1"/>
<path d="M1587.3,1286.3C1595,1295 1602,1305 1606.5,1315L1606.5,1320.7" stroke-width="1.3"/>
<path d="M1575,1309L1584.5,1309.3" stroke-width="1.1"/>
<path d="M1554.8,1219.4L1826,1063C1831,1061 1836,1062 1840,1064L1891,1101.7C1894,1104 1894,1108 1890,1110C1850,1130 1810,1155 1774.6,1180.6C1730,1210 1680,1240 1640,1256C1630,1260 1625,1261 1616,1260.5L1554.8,1219.4Z" stroke-width="1.4"/>
<path d="M1560,1219L1828,1068" stroke-width="0.9" stroke-dasharray="2 2"/>
<path d="M1841,1071L1884,1100" stroke-width="0.9" stroke-dasharray="2 2"/>
<path d="M1594.0,1201.0L1590.0,1228.0" stroke-width="1.0" stroke-dasharray="5 3"/>
<path d="M1599.0,1198.0L1595.0,1222.0" stroke-width="1.0" stroke-dasharray="5 3"/>
<path d="M1712.0,1143.0L1703.0,1188.0" stroke-width="1.0" stroke-dasharray="5 3"/>
<path d="M1719.0,1148.0L1712.0,1175.0" stroke-width="1.0" stroke-dasharray="5 3"/>
<path d="M1868.0,1083.0L1863.0,1117.0" stroke-width="1.0" stroke-dasharray="5 3"/>
<path d="M1875.0,1088.0L1871.0,1112.0" stroke-width="1.0" stroke-dasharray="5 3"/>
<path d="M1944,1138C1930,1155 1912,1170 1890,1185C1850,1208 1800,1232 1756,1256C1720,1276 1680,1296 1640,1312" stroke-width="1.1"/>
<path d="M1918,1162L1918,1170L1924,1168L1924,1158" stroke-width="1.2"/>
<!-- r52_p497.py -->
<path d="M1501.3,1086.5L1629.4,1014.9L1632.3,1017.7L1632.3,1025.4L1641.8,1040.7L1512.8,1115.2L1501.3,1097Z" fill="#fff" stroke="none"/>
<path d="M1501.3,1086.5L1629.4,1014.9L1632.3,1017.7L1632.3,1025.4L1641.8,1040.7L1512.8,1115.2L1501.3,1097Z" stroke-width="2.2"/>
<path d="M1502.3,1091.3L1631.3,1020.6" stroke-width="1.3"/>
<path d="M1503,1094L1632,1023" stroke-width="1.0"/>
<path d="M1505,1098L1632.3,1027" stroke-width="2.0"/>
<!-- r54_p495.py -->
<path d="M1412.4,1309.3L1428.7,1300.7L1432.5,1299.7L1551,1361L1556,1368C1556,1374 1550,1377 1545,1374L1412.4,1315Z" fill="#fff" stroke="none"/><path d="M1947.5,1107.4L1986.9,1127L1983,1145L1951,1120.5Z" fill="#fff" stroke="none"/>
<path d="M1412.4,1309.3L1428.7,1300.7L1432.5,1299.7L1551,1361" stroke-width="1.6"/>
<path d="M1412.4,1315L1545,1375" stroke-width="1.6"/>
<path d="M1412.4,1309.3L1412.4,1315" stroke-width="1.4"/>
<path d="M1416,1310L1548,1370" stroke-width="1.0" stroke-dasharray="1.5 1.5"/>
<path d="M1430,1303L1552,1364" stroke-width="1.0"/>
<path d="M1420,1307L1540,1366" stroke-width="1.0" stroke-dasharray="1 2"/>
<ellipse cx="1550" cy="1368" rx="5" ry="7.5" transform="rotate(25 1550 1368)" fill="#fff" stroke-width="1.5"/>
<path d="M1536,1371L1542,1366L1546,1368" stroke-width="1.2"/>
<path d="M1947.5,1107.4L1986.9,1127" stroke-width="1.5"/>
<path d="M1946,1112L1985,1132" stroke-width="1.2"/>
<path d="M1951,1120.5L1981,1143" stroke-width="1.5"/>
<path d="M1948,1116L1984,1136" stroke-width="1.0"/>
<ellipse cx="1984" cy="1139" rx="5" ry="7" transform="rotate(25 1984 1139)" fill="#fff" stroke-width="1.5"/>
<path d="M1984,1126L1988,1130L1984,1133" stroke-width="1.2"/>
<!-- r56_p476.py -->
<path d="M1665.6,1334.7C1700,1320 1730,1310 1755.8,1300.9C1800,1285 1840,1270 1868.5,1255.8C1910,1232 1940,1205 1958.7,1169.4L1962,1172L1962,1180L1966,1190L1964.4,1191.9C1945,1222 1915,1250 1868.5,1274.6C1840,1292 1800,1315 1755.8,1331C1730,1340 1700,1350 1669.4,1362.9L1663,1358L1662,1345Z" fill="#fff" stroke="none"/>
<path d="M1665.6,1334.7C1700,1320 1730,1310 1755.8,1300.9C1800,1285 1840,1270 1868.5,1255.8C1910,1232 1940,1205 1958.7,1169.4" stroke-width="1.6"/>
<path d="M1669.4,1362.9C1700,1350 1730,1340 1755.8,1331C1800,1315 1840,1292 1868.5,1274.6C1915,1250 1945,1222 1964.4,1191.9" stroke-width="1.6"/>
<path d="M1665.6,1334.7L1662,1338L1663,1352L1660,1356L1664,1362L1669.4,1362.9" stroke-width="1.5"/>
<path d="M1958.7,1169.4L1962,1171L1962,1180L1966,1184L1966,1189L1964.4,1191.9" stroke-width="1.5"/>
<path d="M1667,1342.0C1700,1328.0 1730,1317.4 1755.8,1309.0C1800,1292.4 1840,1276.8 1868.5,1262.8C1910,1238.8 1940,1211.8 1960,1176.8" stroke-width="1.2"/>
<path d="M1667,1346.0C1700,1332.0 1730,1321.0 1755.8,1313.0C1800,1296.0 1840,1280.0 1868.5,1266.0C1910,1242.0 1940,1215.0 1960,1180.0" stroke-width="1.0" stroke-dasharray="1.5 1.5"/>
<path d="M1667,1350.0C1700,1336.0 1730,1324.6 1755.8,1317.0C1800,1299.6 1840,1283.2 1868.5,1269.2C1910,1245.2 1940,1218.2 1960,1183.2" stroke-width="1.2"/>
<path d="M1667,1355.0C1700,1341.0 1730,1329.1 1755.8,1322.0C1800,1304.1 1840,1287.2 1868.5,1273.2C1910,1249.2 1940,1222.2 1960,1187.2" stroke-width="1.0" stroke-dasharray="1.5 1.5"/>
<path d="M1667,1359.0C1700,1345.0 1730,1332.7 1755.8,1326.0C1800,1307.7 1840,1290.4 1868.5,1276.4C1910,1252.4 1940,1225.4 1960,1190.4" stroke-width="1.0"/>
</g>
<!--/PARTS-->
<path d="M513,2094V2198H1059V705.5H1631V769" fill="none" stroke="#000" stroke-width="3.8" stroke-dasharray="41 13.5 7 13.5"/>
<path d="M1614.4,769.3L1647.4,769.3L1631,797Z" fill="#000"/>
<path d="M945,100L884,132 M1036,219L969,280 M991,395L1092,393 M993,502L1081,493 M981,693L907,789 M972,891L902,951 M962,1168L829.5,1213 M962,1355L904,1382 M962,1463L870,1482 M962,1533L918,1541 M962,1736L903,1746 M462,1369L526,1442 M156,1534L208,1557 M139,1654L170,1702 M142,1755L170,1835 M1669,987L1639,1030 M1927,977L1889,1049 M1996,1071L1976,1111 M1902,1311L1878,1267 M1471,1354L1453,1398 M1954,1485L1901,1539 M2042,1722L2087,1639L2115,1773 M2175,1922L2133,1905 M2115,1992L2049,1913 M2075,2074L2023,2007 M1307,2007L1307,2114 M1224,2054L1255,2195 M1154,2126L1175,2194 M1146,2306L1075,2373L1240,2351 M1923,2331L1866,2262 " fill="none" stroke="#000" stroke-width="3.2" stroke-linecap="butt"/>
<g class="t">
<text x="944.9" y="93.0" textLength="58.1">505</text>
<text x="1025.9" y="212.0" textLength="57.1">501</text>
<text x="1098.9" y="406.0" textLength="58.1">505</text>
<text x="1086.9" y="504.0" textLength="58.1">530</text>
<text x="968.9" y="685.0" textLength="59.1">470</text>
<text x="968.9" y="884.0" textLength="58.1">471</text>
<text x="968.9" y="1174.0" textLength="59.1">409</text>
<text x="968.9" y="1354.0" textLength="59.1">410</text>
<text x="968.9" y="1468.0" textLength="59.1">414</text>
<text x="968.9" y="1540.0" textLength="58.1">413</text>
<text x="968.9" y="1746.0" textLength="57.1">407</text>
<text x="419.9" y="1362.0" textLength="60.1">418</text>
<text x="94.9" y="1535.0" textLength="57.1">417</text>
<text x="100.9" y="1647.0" textLength="59.1">400</text>
<text x="148.9" y="1869.0" textLength="56.1">401</text>
<text x="1651.9" y="979.0" textLength="57.1">497</text>
<text x="1905.9" y="970.0" textLength="58.1">540</text>
<text x="1972.9" y="1063.0" textLength="58.1">495</text>
<text x="1887.9" y="1349.0" textLength="58.1">476</text>
<text x="1416.9" y="1433.0" textLength="59.1">495</text>
<text x="1934.9" y="1477.0" textLength="56.1">481</text>
<text x="2059.9" y="1630.0" textLength="58.1">582</text>
<text x="2180.9" y="1937.0" textLength="55.1">581</text>
<text x="2121.9" y="2012.0" textLength="57.1">583</text>
<text x="2082.9" y="2106.0" textLength="57.1">580</text>
<text x="1276.9" y="1999.0" textLength="57.1">580</text>
<text x="1189.9" y="2046.0" textLength="57.1">583</text>
<text x="1121.9" y="2118.0" textLength="56.1">581</text>
<text x="1009.9" y="2390.0" textLength="58.1">582</text>
<text x="1907.9" y="2369.0" textLength="56.1">487</text>

</g>
<text x="140" y="2381" font-family="Liberation Sans" font-weight="bold" font-size="30.5" textLength="366" lengthAdjust="spacingAndGlyphs">(ART NO. WR20150 C18)</text>
</svg>
</body></html>
